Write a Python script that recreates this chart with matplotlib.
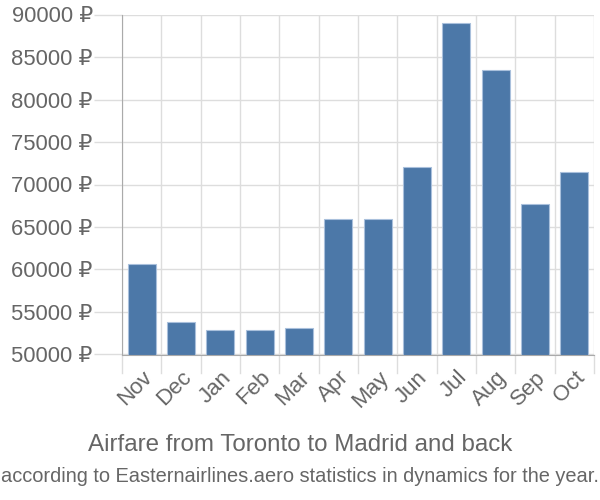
import matplotlib
matplotlib.use("Agg")
import matplotlib.pyplot as plt
import numpy as np

months = ["Nov", "Dec", "Jan", "Feb", "Mar", "Apr", "May", "Jun", "Jul", "Aug", "Sep", "Oct"]
prices = [60700, 53800, 52850, 52850, 53150, 66000, 66000, 72050, 89000, 83430, 67670, 71470]
yticks = [50000, 55000, 60000, 65000, 70000, 75000, 80000, 85000, 90000]

plt.rcParams['font.family'] = ['Liberation Sans', 'DejaVu Sans']

fig = plt.figure(figsize=(6, 5), dpi=100)
ax = fig.add_axes([122/600, 1-354.5/500, (594-122)/600, (354.5-14.5)/500])

x = np.arange(len(months))
ax.bar(x, prices, width=0.72, color="#4c78a8", edgecolor="#a9c0dc", linewidth=0.8, zorder=3)
ax.set_xlim(-0.5, len(months)-0.5)
ax.set_ylim(50000, 90000)

ax.set_yticks(yticks)
ax.set_yticklabels([f"{v} ₽" for v in yticks])
ax.set_xticks(x)
ax.set_xticklabels(months, rotation=45, ha='right', rotation_mode='anchor')
ax.tick_params(axis='x', length=0, pad=9, labelsize=16, labelcolor="#666666")
ax.tick_params(axis='y', length=20, color="#dddddd", width=1, pad=1, labelsize=15.8, labelcolor="#666666")

for b in np.arange(-0.5, len(months)+0.5, 1):
    ax.axvline(b, color="#dddddd", lw=1, zorder=1)
    ax.plot([b, b], [0, -0.055], transform=ax.get_xaxis_transform(), color="#dddddd", lw=1, clip_on=False)
ax.yaxis.grid(True, color="#dddddd", lw=1, zorder=1)
ax.set_axisbelow(True)

for s in ['top', 'right']:
    ax.spines[s].set_visible(False)
ax.spines['left'].set_color("#aaaaaa")
ax.spines['bottom'].set_color("#aaaaaa")
ax.spines['left'].set_zorder(4)
ax.spines['bottom'].set_zorder(4)

fig.text(0.5, 1-445/500, "Airfare from Toronto to Madrid and back", ha='center', va='center', fontsize=17.4, color="#666666")
fig.text(0.5, 1-476/500, "according to Easternairlines.aero statistics in dynamics for the year.", ha='center', va='center', fontsize=14.4, color="#666666")

fig.savefig("out.png", dpi=100)
